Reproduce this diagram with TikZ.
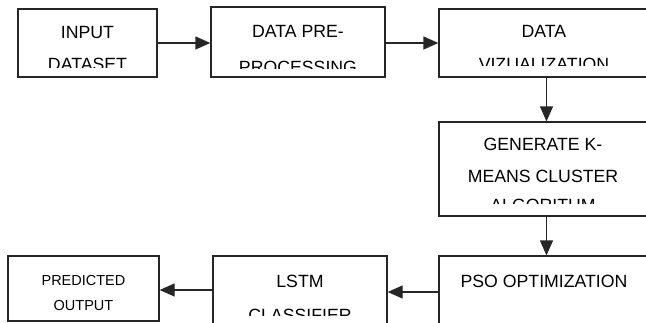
\documentclass[tikz,border=0pt]{standalone}
\usepackage{fontspec}
\setmainfont{Liberation Sans}
\usetikzlibrary{arrows.meta}
\begin{document}
\begin{tikzpicture}[x=1pt,y=-1pt,
  box/.style={draw=black!85, line width=1.3pt, inner sep=0pt, fill=white},
  lbl/.style={anchor=base, inner sep=0pt, text=black, font=\fontsize{17.7}{20}\selectfont},
  small/.style={anchor=base, inner sep=0pt, text=black, font=\fontsize{14.5}{18}\selectfont},
  conn/.style={draw=black!85, line width=1.3pt, -{Triangle[length=15pt,width=13pt]}}]
\useasboundingbox (0,0) rectangle (646,322);
\clip (0,0) rectangle (646,322);
% boxes
\node[box, minimum width=139pt, minimum height=68pt] (b1) at (87.5,43) {};
\node[box, minimum width=174pt, minimum height=70pt] (b2) at (298,42) {};
\node[box, minimum width=215pt, minimum height=68pt] (b3) at (546.5,43) {};
\node[box, minimum width=215pt, minimum height=94pt] (b4) at (546.5,169) {};
\node[box, minimum width=215pt, minimum height=68pt] (b5) at (546.5,290) {};
\node[box, minimum width=174pt, minimum height=68pt] (b6) at (300,290) {};
\node[box, minimum width=151pt, minimum height=65pt] (b7) at (83.5,288.5) {};
% texts
\begin{scope}
\clip (20,10) rectangle (155,67);
\node[lbl] (t1a) at (87.5,38) {INPUT};
\node[lbl] (t1b) at (87.5,70) {DATASET};
\end{scope}
\begin{scope}
\clip (213,9) rectangle (383,68);
\node[lbl] (t2a) at (298,37) {DATA PRE-};
\node[lbl] (t2b) at (298,73) {PROCESSING};
\end{scope}
\begin{scope}
\clip (441,10) rectangle (646,65);
\node[lbl] (t3a) at (544,37) {DATA};
\node[lbl] (t3b) at (544,70) {VIZUALIZATION};
\end{scope}
\begin{scope}
\clip (441,123) rectangle (646,203);
\node[lbl] (t4a) at (543,150) {GENERATE K-};
\node[lbl] (t4b) at (543,182) {MEANS CLUSTER};
\node[lbl] (t4c) at (543,211) {ALGORITHM};
\end{scope}
\node[lbl] (t5a) at (544,287) {PSO OPTIMIZATION};
\begin{scope}
\clip (215,257) rectangle (385,315);
\node[lbl] (t6a) at (300,287) {LSTM};
\node[lbl] (t6b) at (300,321) {CLASSIFIER};
\end{scope}
\node[small] (t7a) at (83.5,285) {PREDICTED};
\node[small] (t7b) at (83.5,310) {OUTPUT};
% connectors
\draw[conn] (b1.east) -- (b2.west |- b1.east);
\draw[conn] (b2.east |- b3.west) -- (b3.west);
\draw[conn] (b3.south) -- (b4.north);
\draw[conn] (b4.south) -- (b5.north);
\draw[conn] ([yshift=-2pt]b5.west) -- ([yshift=-2pt]b6.east);
\draw[conn] (b6.west) -- (b7.east |- b6.west);
\end{tikzpicture}
\end{document}
